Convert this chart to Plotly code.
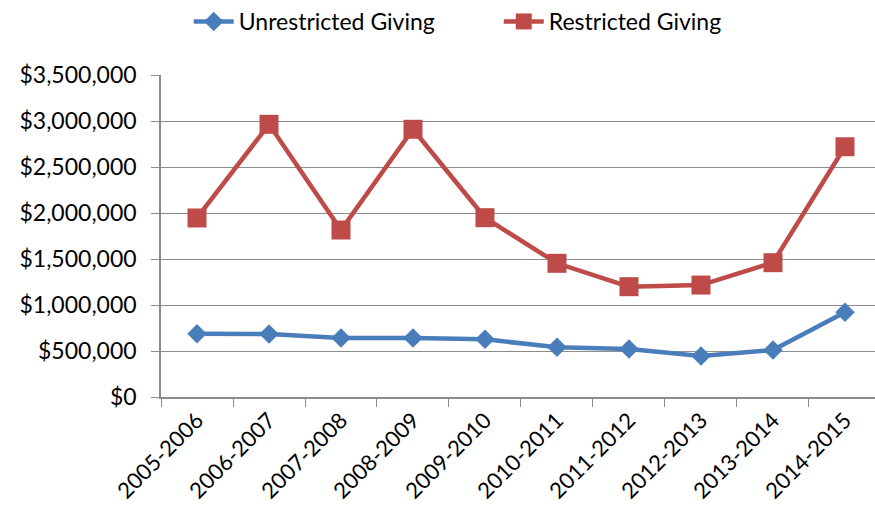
import plotly.graph_objects as go

# Annual giving totals by fiscal year
years = ["2005-2006", "2006-2007", "2007-2008", "2008-2009", "2009-2010",
         "2010-2011", "2011-2012", "2012-2013", "2013-2014", "2014-2015"]
unrestricted = [688000, 685000, 641000, 641000, 627000,
                540000, 522000, 446000, 511000, 920000]
restricted = [1946000, 2964000, 1815000, 2910000, 1949000,
              1453000, 1199000, 1217000, 1460000, 2720000]

y_ticks = [0, 500000, 1000000, 1500000, 2000000, 2500000, 3000000, 3500000]
y_tick_labels = ["$0", "$500,000", "$1,000,000", "$1,500,000", "$2,000,000",
                 "$2,500,000", "$3,000,000", "$3,500,000"]

BLUE = "#4A7EBB"
RED = "#BE4B48"
GRID = "#8C8C8C"
FONT = "Lato, 'Open Sans', sans-serif"

fig = go.Figure()
fig.add_trace(go.Scatter(
    x=years, y=unrestricted, name="Unrestricted Giving", mode="lines+markers",
    line=dict(color=BLUE, width=4.5),
    marker=dict(symbol="diamond", size=15, color=BLUE),
))
fig.add_trace(go.Scatter(
    x=years, y=restricted, name="Restricted Giving", mode="lines+markers",
    line=dict(color=RED, width=4.5),
    marker=dict(symbol="square", size=19, color=RED),
))

fig.update_layout(
    width=875, height=517,
    margin=dict(l=161, r=0, t=75, b=120),
    paper_bgcolor="white", plot_bgcolor="white",
    font=dict(family=FONT, size=22, color="#000000"),
    showlegend=True,
    legend=dict(orientation="h", x=0.570, xref="container", xanchor="center",
                y=1.0, yref="container", yanchor="top",
                font=dict(size=23), itemwidth=40, entrywidth=255,
                traceorder="normal", bgcolor="rgba(0,0,0,0)"),
    xaxis=dict(
        type="category", range=[-0.5, 9.417],
        tickangle=-45, tickson="boundaries",
        ticks="outside", ticklen=8, tickcolor=GRID, tickwidth=1,
        showline=True, linecolor=GRID, linewidth=1.5,
        showgrid=False, tickfont=dict(size=22),
    ),
    yaxis=dict(
        range=[0, 3500000], tickvals=y_ticks, ticktext=y_tick_labels,
        ticks="outside", ticklen=8, tickcolor=GRID, tickwidth=1,
        showline=True, linecolor=GRID, linewidth=1.5,
        showgrid=True, gridcolor=GRID, gridwidth=1,
        zeroline=False, tickfont=dict(size=23), ticklabelstandoff=10,
    ),
)

fig.write_html("out.html")
